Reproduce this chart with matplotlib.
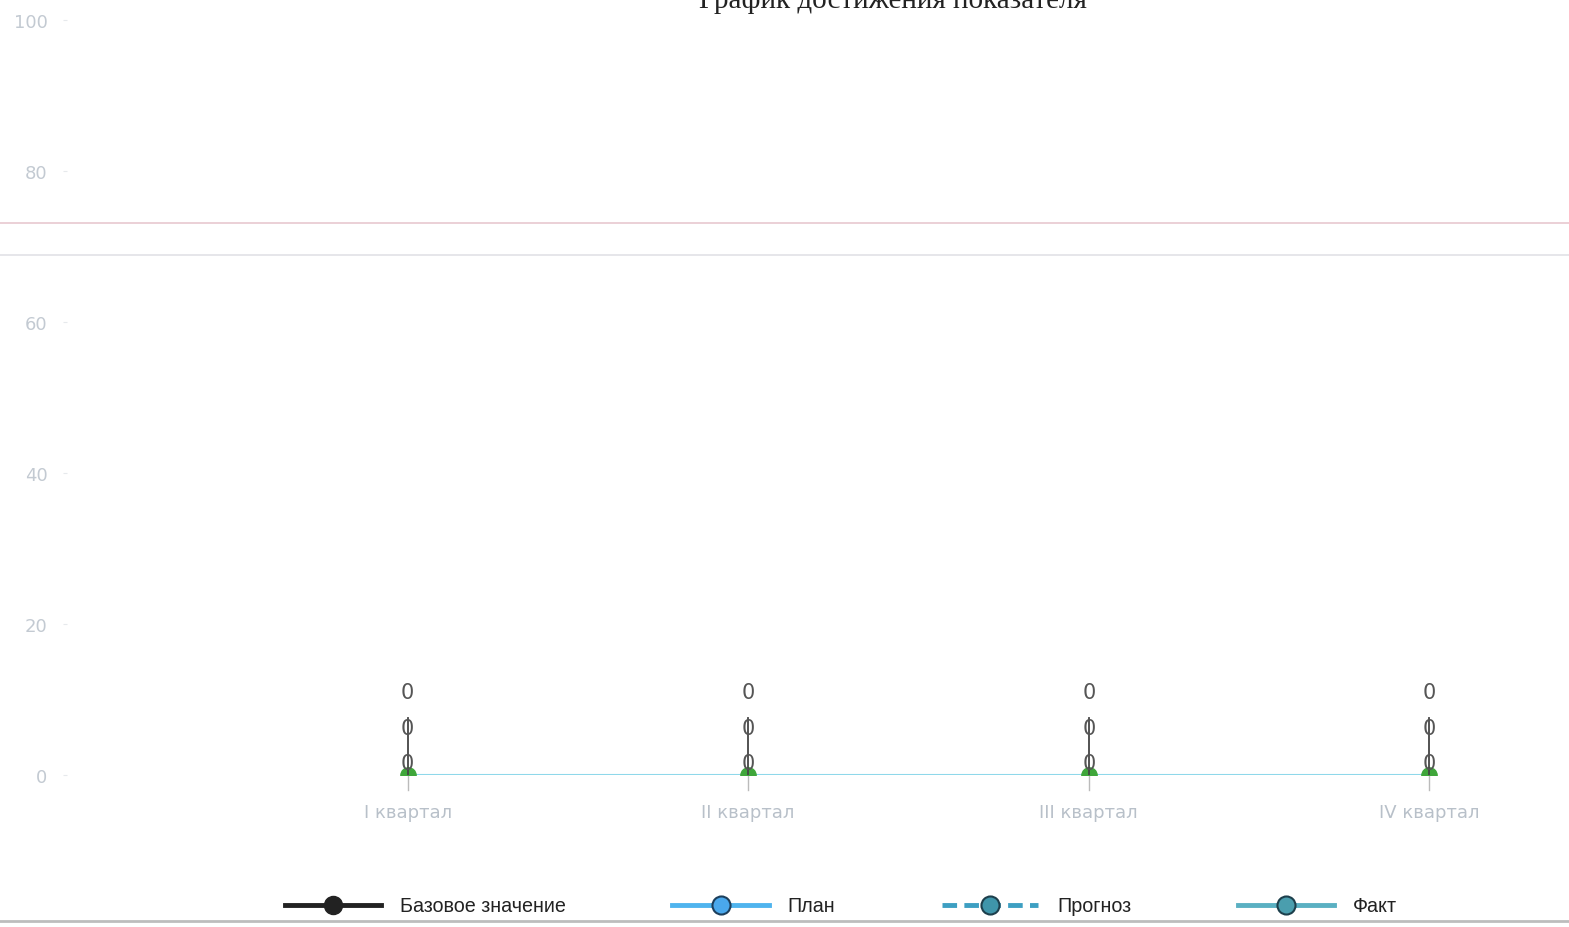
import matplotlib.pyplot as plt
from matplotlib.lines import Line2D

categories = ['I квартал', 'II квартал', 'III квартал', 'IV квартал']
base_values = [0, 0, 0, 0]
plan_values = [0, 0, 0, 0]
forecast_values = [0, 0, 0, 0]
fact_values = [0, 0, 0, 0]
y_ticks = [0, 20, 40, 60, 80, 100]
legend_names = ['Базовое значение', 'План', 'Прогноз', 'Факт']

fig = plt.figure(figsize=(15.69, 9.28), dpi=100)
ax = fig.add_axes([67 / 1569, 152 / 928, 1 - 67 / 1569, 755 / 928])
x = list(range(len(categories)))

# линия факта и маркеры
ax.plot(x, fact_values, color='#8fd8ea', lw=1.5, zorder=2)
ax.plot(x, plan_values, ls='none', marker='o', ms=11, color='#3fa63a', zorder=3)

# подписи значений (наложены друг на друга)
for xi, b, p, f in zip(x, base_values, plan_values, forecast_values):
    ax.plot([xi, xi], [b, p + 7.5], color='#444444', lw=1.3, zorder=4)
    ax.plot([xi, xi], [b - 2, b], color='#bbbbbb', lw=1.0, zorder=1, clip_on=False)
    for val, off in [(b, 1.6), (p, 6.2), (f, 11.0)]:
        ax.text(xi, val + off, f'{val:g}', ha='center', va='center',
                fontsize=15, color='#555555', zorder=5)

ax.set_xlim(-1, 3.41)
ax.set_ylim(0, 100)
ax.set_yticks(y_ticks)
ax.set_xticks(x)
ax.set_xticklabels(categories)
ax.tick_params(axis='y', colors='#e6e9ec', labelcolor='#c3cad2', labelsize=13,
               length=3, pad=11)
ax.tick_params(axis='x', colors='#dddddd', labelcolor='#b8c0c9', labelsize=13,
               length=0, pad=20)
for s in ax.spines.values():
    s.set_visible(False)

# полосы скана
fig.add_artist(Line2D([0, 1], [1 - 224 / 928] * 2, color='#e8c8cf', lw=1.2))
fig.add_artist(Line2D([0, 1], [1 - 256 / 928] * 2, color='#e2e2e6', lw=1.2))
fig.add_artist(Line2D([0, 1], [1 - 922 / 928] * 2, color='#bdbdbd', lw=2))

fig.text(893 / 1569, 1.0, 'График достижения показателя', ha='center', va='center',
         fontsize=21, family='Liberation Serif', color='#222222')

handles = [
    Line2D([], [], color='#222222', lw=3.5, marker='o', ms=13, mfc='#222222', mec='#222222'),
    Line2D([], [], color='#4fb4ee', lw=3.5, marker='o', ms=13, mfc='#4aa8ec', mec='#1d3f5c', mew=1.5),
    Line2D([], [], color='#3d9fc2', lw=3.5, ls=(0, (3, 1.5)), marker='o', ms=13, mfc='#3f95aa', mec='#1d3f4c', mew=1.5),
    Line2D([], [], color='#5ab0c2', lw=3.5, marker='o', ms=13, mfc='#4a9eae', mec='#1d3f4c', mew=1.5),
]
fig.legend(handles, legend_names, loc='center', bbox_to_anchor=(0.536, 1 - 907 / 928),
           ncol=4, frameon=False, handlelength=4.9, handletextpad=0.95,
           columnspacing=5.4, labelcolor='#222222',
           prop={'family': 'Liberation Sans', 'size': 14.2})

fig.savefig('out.png', dpi=100, facecolor='white')
